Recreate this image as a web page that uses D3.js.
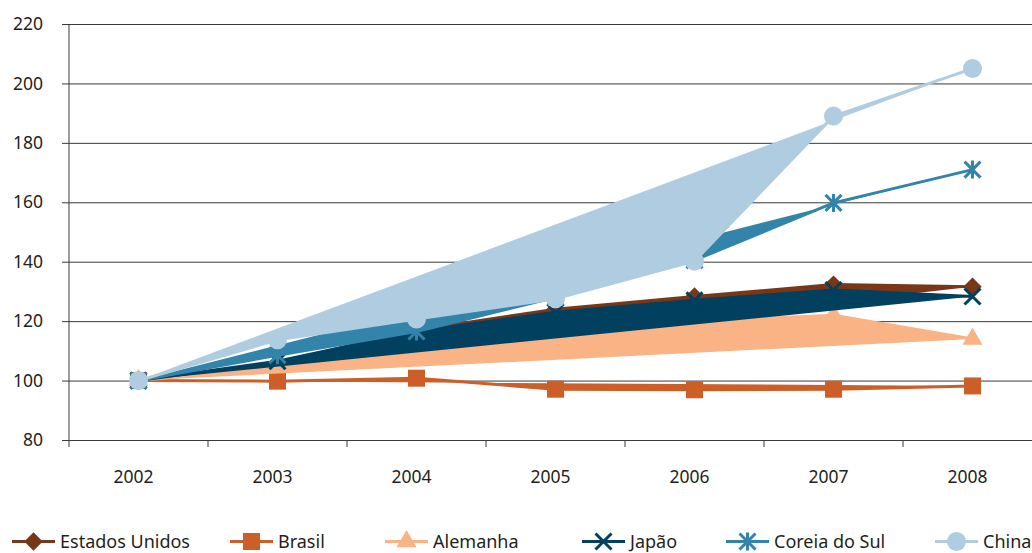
<!DOCTYPE html>
<html>
<head>
<meta charset="utf-8">
<script src="https://cdn.jsdelivr.net/npm/d3@7"></script>
<style>
	body{margin:0;background:#fff;}
	svg text{font-family:"Noto Sans",sans-serif;font-size:17.5px;fill:#231f20;}
	svg .legend text{font-size:18px;}
</style>
</head>
<body>
<script>
//dados (índice, 2002 = 100)
var years = ["2002", "2003", "2004", "2005", "2006", "2007", "2008"];
var yTicks = [80, 100, 120, 140, 160, 180, 200, 220];
var names = ["Estados Unidos", "Brasil", "Alemanha", "Japão", "Coreia do Sul", "China"];

var estadosUnidos = [100, 106, 117, 124, 128.3, 132.3, 131.6];
var brasil = [100, 99.8, 100.8, 97.1, 96.9, 97.1, 98.2];
var alemanha = [100, 104.5, 110, 115, 120, 122, 114];
var japao = [100, 106.5, 116.5, 123, 127, 130.5, 128.3];
var coreia = [100, 108.5, 116.5, 128, 140.5, 159.8, 171];
var china = [100, 113.7, 120.7, 127.5, 140.2, 189, 205];

var seriesValues = [estadosUnidos, brasil, alemanha, japao, coreia, china];

//estilos de cada série
var colors = ["#7a3718", "#cc5f28", "#f9b385", "#01405f", "#3384aa", "#afcce1"];
var markers = ["diamond", "square", "triangle", "x", "asterisk", "circle"];
var legendX = [12, 230, 385, 582, 726, 935];

window.onload = drawChart();

function drawChart(){
	var width = 1032,
		height = 553;

	var svg = d3.select("body")
		.append("svg")
		.attr("width", width)
		.attr("height", height);

	var x = d3.scaleBand()
		.domain(years)
		.range([69, 1042]);

	var y = d3.scaleLinear()
		.domain([80, 220])
		.range([440, 24]);

	var cx = function(i){ return x(years[i]) + x.bandwidth() / 2; };

	//grade horizontal + rótulos do eixo y
	var gridAxis = svg.append("g")
		.attr("transform", "translate(1042,0)")
		.call(d3.axisLeft(y).tickValues(yTicks).tickSize(980).tickPadding(19));
	gridAxis.select(".domain").remove();
	gridAxis.selectAll("line").attr("stroke", "#3a3a3a");
	gridAxis.selectAll("text").attr("fill", "#231f20");

	//eixo y
	svg.append("line")
		.attr("x1", 69).attr("x2", 69)
		.attr("y1", y(220)).attr("y2", y(80))
		.attr("stroke", "#3a3a3a");

	//eixo x: rótulos
	var xAxis = svg.append("g")
		.attr("transform", "translate(0,440)")
		.call(d3.axisBottom(x).tickSize(0).tickPadding(31));
	xAxis.select(".domain").remove();
	xAxis.selectAll("text").attr("dx", -5).attr("fill", "#231f20");

	//marcas entre categorias
	var bounds = years.map(function(d){ return x(d); }).concat([x.range()[1]]);
	svg.selectAll(".xtick")
		.data(bounds)
		.enter()
		.append("line")
		.attr("class", "xtick")
		.attr("x1", function(d){ return d; })
		.attr("x2", function(d){ return d; })
		.attr("y1", 440)
		.attr("y2", 447)
		.attr("stroke", "#3a3a3a");

	var line = d3.line()
		.x(function(d, i){ return cx(i); })
		.y(function(d){ return y(d); });

	//séries: área fechada (como no original), linha e marcadores
	seriesValues.forEach(function(vals, s){
		var g = svg.append("g");
		g.append("path")
			.attr("d", line(vals) + "Z")
			.attr("fill", colors[s]);
		g.append("path")
			.attr("d", line(vals))
			.attr("fill", "none")
			.attr("stroke", colors[s])
			.attr("stroke-width", 3)
			.attr("stroke-linejoin", "round");
		g.selectAll(".mk")
			.data(vals)
			.enter()
			.append("path")
			.attr("class", "mk")
			.attr("transform", function(d, i){ return "translate(" + cx(i) + "," + y(d) + ")"; })
			.each(function(){ drawMarker(d3.select(this), markers[s], colors[s]); });
	});

	//legenda
	var legend = svg.selectAll(".legend")
		.data(names)
		.enter()
		.append("g")
		.attr("class", "legend")
		.attr("transform", function(d, i){ return "translate(" + legendX[i] + ",541.5)"; });
	legend.append("line")
		.attr("x1", 0).attr("x2", 43)
		.attr("stroke", function(d, i){ return colors[i]; })
		.attr("stroke-width", 3);
	legend.append("path")
		.attr("transform", "translate(21.5,0)")
		.each(function(d, i){ drawMarker(d3.select(this), markers[i], colors[i]); });
	legend.append("text")
		.attr("x", 48)
		.attr("y", 6.5)
		.text(function(d){ return d; });
}

function drawMarker(sel, type, color){
	if (type == "x" || type == "asterisk"){
		var r = 8;
		var p = "M" + (-r) + "," + (-r) + "L" + r + "," + r + "M" + (-r) + "," + r + "L" + r + "," + (-r);
		if (type == "asterisk") p += "M0," + (-r - 1) + "L0," + (r + 1);
		sel.attr("d", p)
			.attr("fill", "none")
			.attr("stroke", color)
			.attr("stroke-width", 3);
		return;
	}
	var sym;
	if (type == "diamond") {
		sym = d3.symbol(d3.symbolSquare, 170)();
		sel.attr("transform", sel.attr("transform") + " rotate(45)");
	}
	if (type == "square") sym = d3.symbol(d3.symbolSquare, 289)();
	if (type == "triangle") sym = d3.symbol(d3.symbolTriangle, 173)();
	if (type == "circle") sym = d3.symbol(d3.symbolCircle, 284)();
	sel.attr("d", sym).attr("fill", color);
}
</script>
</body>
</html>
